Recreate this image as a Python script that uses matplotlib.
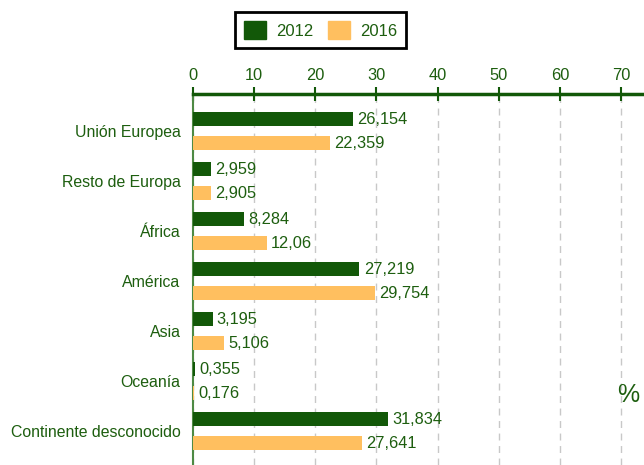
import matplotlib.pyplot as plt
import numpy as np
from matplotlib.patches import Patch

plt.rcParams['font.family'] = ['Liberation Sans', 'DejaVu Sans']

regions = ["Unión Europea", "Resto de Europa", "África", "América",
           "Asia", "Oceanía", "Continente desconocido"]
v2012 = [26.154, 2.959, 8.284, 27.219, 3.195, 0.355, 31.834]
v2016 = [22.359, 2.905, 12.06, 29.754, 5.106, 0.176, 27.641]
lab2012 = ["26,154", "2,959", "8,284", "27,219", "3,195", "0,355", "31,834"]
lab2016 = ["22,359", "2,905", "12,06", "29,754", "5,106", "0,176", "27,641"]

green = "#125808"
orange = "#FFBF5F"
txt = "#1d5e0f"

fig = plt.figure(figsize=(6.44, 4.65), dpi=100)
ax = fig.add_axes([193 / 644, 0, 1 - 193 / 644, 1 - 94 / 465])

y = np.arange(len(regions))
h = 0.28
ax.barh(y - 0.24, v2012, height=h, color=green, zorder=3)
ax.barh(y + 0.24, v2016, height=h, color=orange, zorder=3)

for yi, v, s in zip(y, v2012, lab2012):
    ax.text(v + 0.7, yi - 0.24, s, va='center', ha='left', color=txt, fontsize=11.8)
for yi, v, s in zip(y, v2016, lab2016):
    ax.text(v + 0.7, yi + 0.24, s, va='center', ha='left', color=txt, fontsize=11.8)

ax.set_xlim(0, 73.76)
ax.set_ylim(6.68, -0.74)
ax.set_xticks(range(0, 80, 10))
ax.set_yticks(y)
ax.set_yticklabels(regions, color=txt, fontsize=11.4)
ax.xaxis.tick_top()
ax.tick_params(axis='x', colors=green, labelcolor=txt, labelsize=11.8,
               direction='inout', length=10, width=1.5, pad=3)
ax.tick_params(axis='y', length=0, pad=9)

ax.grid(axis='x', color='#c8c8c8', linestyle=(0, (5, 4)), linewidth=1, zorder=0)
for side in ['right', 'bottom']:
    ax.spines[side].set_visible(False)
ax.spines['top'].set_color(green)
ax.spines['top'].set_linewidth(2.5)
ax.spines['left'].set_color('#4e8a44')
ax.spines['left'].set_linewidth(1.5)

fig.text(628 / 644, 1 - 395 / 465, "%", color=txt, fontsize=18, ha='center', va='center')

handles = [Patch(color=green, label='2012'), Patch(color=orange, label='2016')]
leg = fig.legend(handles=handles, loc='center', bbox_to_anchor=(320.5 / 644, 1 - 30 / 465),
                 ncol=2, frameon=True, fancybox=False, fontsize=12, framealpha=1,
                 handlelength=1.3, handleheight=1.3, columnspacing=0.9,
                 handletextpad=0.6, borderpad=0.55, borderaxespad=0)
leg.get_frame().set_edgecolor('black')
leg.get_frame().set_linewidth(2)
for t in leg.get_texts():
    t.set_color(txt)

fig.savefig("out.png", dpi=100)
